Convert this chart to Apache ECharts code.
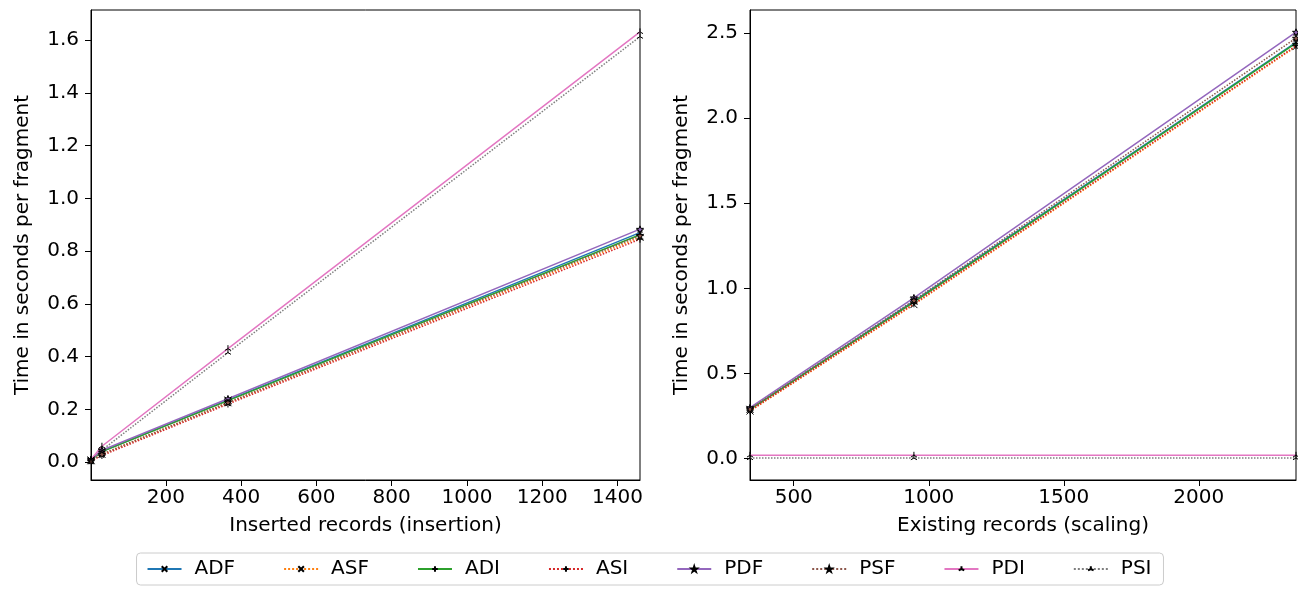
<!DOCTYPE html>
<html>
<head>
<meta charset="utf-8">
<script src="https://cdn.jsdelivr.net/npm/echarts@6/dist/echarts.min.js"></script>
<style>
html,body{margin:0;padding:0;background:#fff;}
#chart{width:1298px;height:592px;}
</style>
</head>
<body>
<div id="chart"></div>
<script>
// ---- data ----
const seriesNames = ['ADF','ASF','ADI','ASI','PDF','PSF','PDI','PSI'];
const insertX = [1, 30, 365, 1460];
const insADF = [0.008, 0.040, 0.235, 0.870];
const insASF = [0.005, 0.030, 0.225, 0.852];
const insADI = [0.008, 0.040, 0.233, 0.862];
const insASI = [0.005, 0.025, 0.220, 0.845];
const insPDF = [0.010, 0.045, 0.240, 0.883];
const insPSF = [0.005, 0.030, 0.226, 0.858];
const insPDI = [0.010, 0.060, 0.430, 1.631];
const insPSI = [0.005, 0.045, 0.415, 1.613];

const scaleX = [338, 945, 2360];
const scaADF = [0.290, 0.925, 2.445];
const scaASF = [0.280, 0.905, 2.420];
const scaADI = [0.290, 0.920, 2.440];
const scaASI = [0.282, 0.910, 2.425];
const scaPDF = [0.300, 0.945, 2.505];
const scaPSF = [0.292, 0.930, 2.470];
const scaPDI = [0.020, 0.020, 0.020];
const scaPSI = [0.004, 0.004, 0.004];

const leftXTicks = [200, 400, 600, 800, 1000, 1200, 1400];
const leftYTicks = [0, 0.2, 0.4, 0.6, 0.8, 1.0, 1.2, 1.4, 1.6];
const rightXTicks = [500, 1000, 1500, 2000];
const rightYTicks = [0, 0.5, 1.0, 1.5, 2.0, 2.5];

// ---- styles ----
const colors = ['#1f77b4','#ff7f0e','#2ca02c','#d62728','#9467bd','#8c564b','#e377c2','#7f7f7f'];
const lineTypes = ['solid','dotted','solid','dotted','solid','dotted','solid','dotted'];
const SYM_X = 'path://M0,0L10,10M10,0L0,10';
const SYM_PLUS = 'path://M5,0L5,10M0,5L10,5';
const SYM_STAR = 'path://M5,0L6.18,3.38L9.76,3.45L6.9,5.62L7.94,9.05L5,7L2.06,9.05L3.1,5.62L0.24,3.45L3.82,3.38Z';
const SYM_TRI = 'path://M5,5L5,0M5,5L0.67,7.5M5,5L9.33,7.5M5,10';
const symbols = [SYM_X, SYM_X, SYM_PLUS, SYM_PLUS, SYM_STAR, SYM_STAR, SYM_TRI, SYM_TRI];
const filled = [false,false,false,false,true,true,false,false];

const insData = [insADF, insASF, insADI, insASI, insPDF, insPSF, insPDI, insPSI];
const scaData = [scaADF, scaASF, scaADI, scaASI, scaPDF, scaPSF, scaPDI, scaPSI];

const FONT = 'DejaVu Sans';
const FS = 20;

function mkSeries(i, xs, ys, axisIdx) {
  return {
    name: seriesNames[i],
    type: 'line',
    xAxisIndex: axisIdx, yAxisIndex: axisIdx,
    data: xs.map((x, k) => [x, ys[k]]),
    symbol: symbols[i],
    symbolSize: 7,
    symbolKeepAspect: true,
    showSymbol: true,
    lineStyle: {color: colors[i], width: 1.5, type: lineTypes[i]},
    itemStyle: {color: filled[i] ? colors[i] : 'rgba(0,0,0,0)', borderColor: '#000', borderWidth: 1},
    emphasis: {disabled: true},
    z: 2
  };
}

const series = [];
for (let i = 0; i < 8; i++) series.push(mkSeries(i, insertX, insData[i], 0));
for (let i = 0; i < 8; i++) series.push(mkSeries(i, scaleX, scaData[i], 1));

function xAxis(gi, min, max, ticks, name) {
  return {
    type: 'value', gridIndex: gi, min: min, max: max,
    name: name, nameLocation: 'middle', nameGap: 36,
    nameTextStyle: {fontFamily: FONT, fontSize: FS, color: '#000'},
    axisLine: {show: true, onZero: false, lineStyle: {color: '#000', width: 1}},
    axisTick: {show: true, inside: false, length: 6, lineStyle: {color: '#000'}, customValues: ticks},
    axisLabel: {fontFamily: FONT, fontSize: FS, color: '#000', margin: 8, customValues: ticks, formatter: v => String(v)},
    splitLine: {show: false}
  };
}
function yAxis(gi, min, max, ticks, name) {
  return {
    type: 'value', gridIndex: gi, min: min, max: max,
    name: name, nameLocation: 'middle', nameGap: 58, nameRotate: 90,
    nameTextStyle: {fontFamily: FONT, fontSize: FS, color: '#000'},
    axisLine: {show: true, onZero: false, lineStyle: {color: '#000', width: 1}},
    axisTick: {show: true, inside: false, length: 6, lineStyle: {color: '#000'}, customValues: ticks},
    axisLabel: {fontFamily: FONT, fontSize: FS, color: '#000', margin: 12, customValues: ticks, formatter: v => v.toFixed(1)},
    splitLine: {show: false}
  };
}

const chart = echarts.init(document.getElementById('chart'), null, {renderer: 'canvas'});
chart.setOption({
  animation: false,
  backgroundColor: '#fff',
  grid: [
    {left: 91, top: 10, width: 549, height: 470, show: true, borderColor: '#000', borderWidth: 1, backgroundColor: 'transparent'},
    {left: 750, top: 10, width: 546, height: 470, show: true, borderColor: '#000', borderWidth: 1, backgroundColor: 'transparent'}
  ],
  xAxis: [
    xAxis(0, 1, 1460, leftXTicks, 'Inserted records (insertion)'),
    xAxis(1, 338, 2360, rightXTicks, 'Existing records (scaling)')
  ],
  yAxis: [
    yAxis(0, -0.068, 1.714, leftYTicks, 'Time in seconds per fragment'),
    yAxis(1, -0.125, 2.635, rightYTicks, 'Time in seconds per fragment')
  ],
  legend: {
    data: seriesNames,
    left: 'center', top: 553,
    orient: 'horizontal',
    itemWidth: 34, itemHeight: 7, itemGap: 48,
    padding: [6, 12, 6, 10],
    borderColor: '#ccc', borderWidth: 1, borderRadius: 4,
    textStyle: {fontFamily: FONT, fontSize: FS, color: '#000', padding: [0, 0, 0, 8]}
  },
  series: series
});
</script>
</body>
</html>
